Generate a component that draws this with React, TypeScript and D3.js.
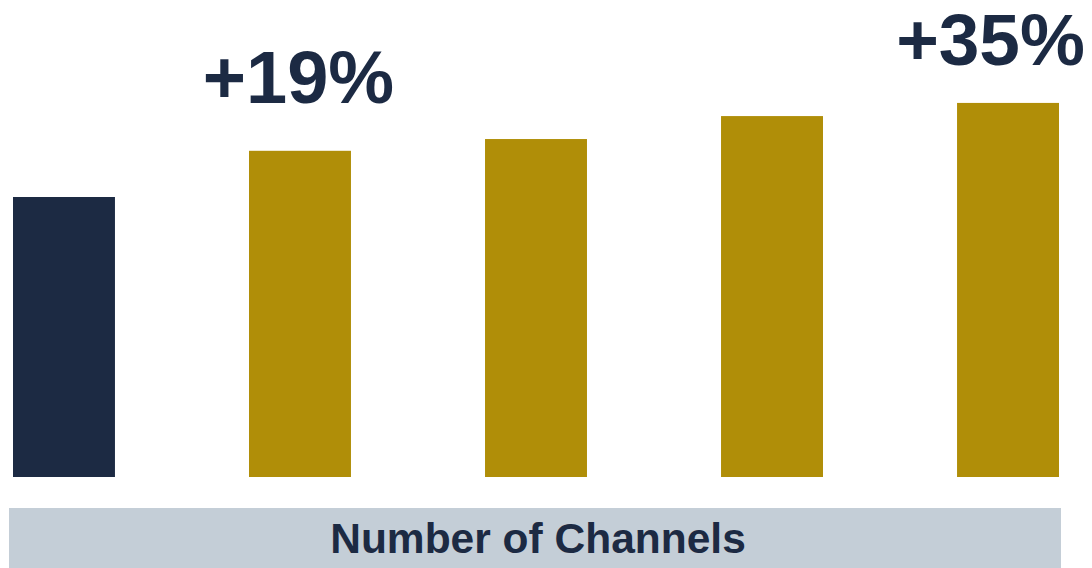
import React from "react";
import * as d3 from "d3";

const categories = ["1", "2", "3", "4", "5"];
const values = [100, 116.5, 120.7, 128.9, 133.6];
const barColors = ["#1C2A43", "#B08E08", "#B08E08", "#B08E08", "#B08E08"];
const labelTexts = ["+19%", "+35%"];
const labelBars = ["2", "5"];
const axisTitle = "Number of Channels";

const W = 1092;
const H = 568;
const FONT = "'Liberation Sans', Arial, Helvetica, sans-serif";
const NAVY = "#1C2A43";

export default function App() {
  const x = d3
    .scaleBand<string>()
    .domain(categories)
    .range([13, 1059])
    .paddingInner(0.568)
    .paddingOuter(0);
  const y = d3.scaleLinear().domain([0, 100]).range([477, 197]);

  // label placement (per-label offsets relative to bar center / bar top)
  const labelDx = [-1.5, -17.5];
  const labelDy = [-48, -38];
  const labelSize = [74, 73];

  return (
    <svg
      width={W}
      height={H}
      style={{ position: "absolute", left: 0, top: 0, background: "#fff" }}
      fontFamily={FONT}
    >
      {categories.map((c, i) => (
        <rect
          key={c}
          x={x(c)}
          y={y(values[i])}
          width={x.bandwidth()}
          height={y(0) - y(values[i])}
          fill={barColors[i]}
        />
      ))}
      {labelTexts.map((t, i) => {
        const c = labelBars[i];
        const idx = categories.indexOf(c);
        const cx = (x(c) as number) + x.bandwidth() / 2 + labelDx[i];
        return (
          <text
            key={t}
            x={cx}
            y={y(values[idx]) + labelDy[i]}
            textAnchor="middle"
            fontSize={labelSize[i]}
            fontWeight="bold"
            fill={NAVY}
          >
            {t}
          </text>
        );
      })}
      <rect x={9} y={508} width={1052} height={60} fill="#C4CED7" />
      <text
        x={538}
        y={553}
        textAnchor="middle"
        fontSize={42.5}
        fontWeight="bold"
        fill={NAVY}
      >
        {axisTitle}
      </text>
    </svg>
  );
}
